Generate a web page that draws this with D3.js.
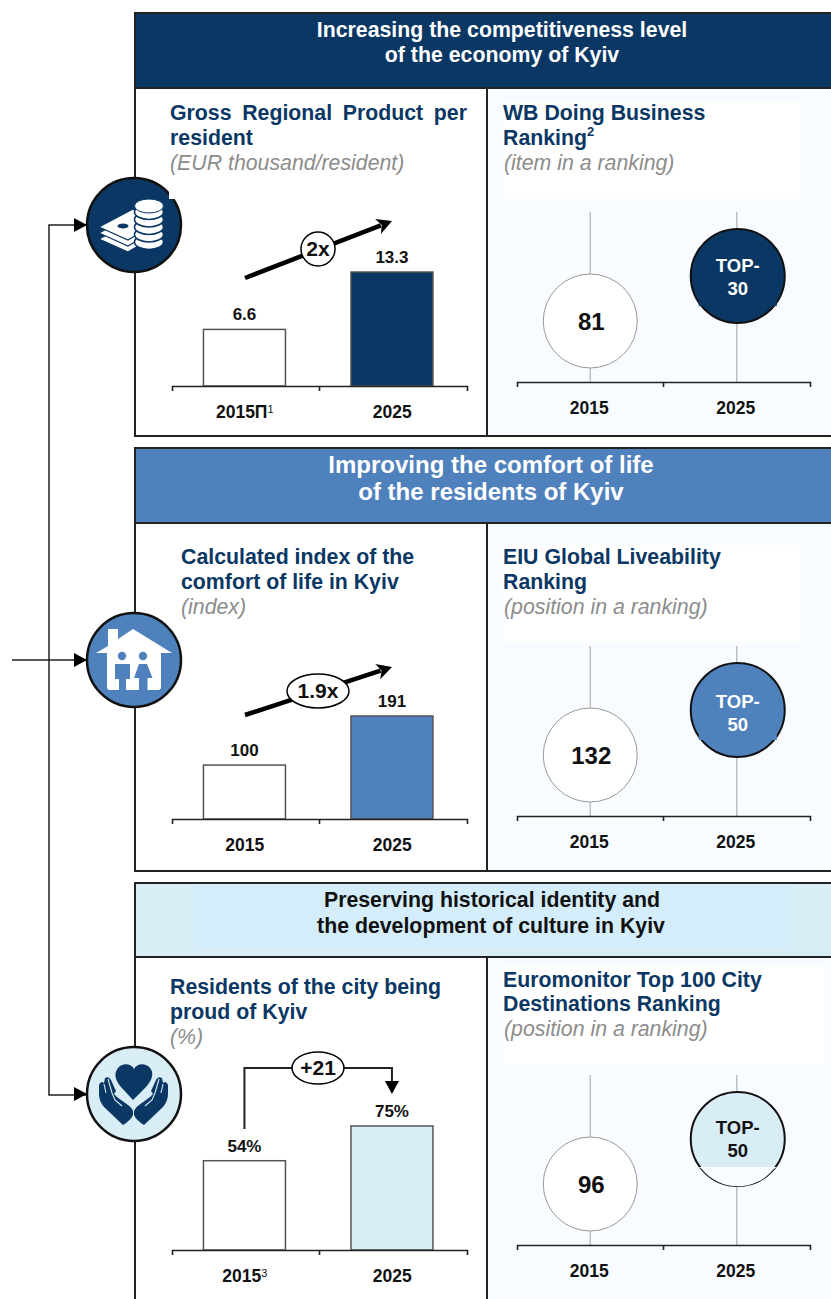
<!DOCTYPE html>
<html>
<head>
<meta charset="utf-8">
<title>Kyiv strategy targets</title>
<script src="https://cdn.jsdelivr.net/npm/d3@7.9.0/dist/d3.min.js"></script>
<style>
  html, body { margin: 0; padding: 0; background: #fff; }
  svg { display: block; }
  text { font-family: "Liberation Sans", Arial, sans-serif; }
  .domain { stroke: #222; stroke-width: 1.6; fill: none; }
  .tick line { stroke: #222; stroke-width: 1.6; }
  .tick text { font-size: 17.5px; font-weight: bold; fill: #111; font-family: "Liberation Sans", Arial, sans-serif; }
</style>
</head>
<body>
<script>
// Chart values
const grpYears = ['2015П¹', '2025'];
const grpValues = [6.6, 13.3];
const grpLabels = ['6.6', '13.3'];

const comfortYears = ['2015', '2025'];
const comfortValues = [100, 191];
const comfortLabels = ['100', '191'];

const prideYears = ['2015³', '2025'];
const prideValues = [54, 75];
const prideLabels = ['54%', '75%'];

const rankYears = ['2015', '2025'];
const doingBusinessRanks = [81, 30];
const doingBusinessLabels = [['81'], ['TOP-', '30']];
const liveabilityRanks = [132, 50];
const liveabilityLabels = [['132'], ['TOP-', '50']];
const destinationRanks = [96, 50];
const destinationLabels = [['96'], ['TOP-', '50']];

const navy = '#0a3763';
const blue = '#4f81bd';
const pale = '#d9edf7';
const paleInner = '#d4edfa';
const paleBg = '#f8fbff';

const svg = d3.select('body').append('svg')
    .attr('width', 831)
    .attr('height', 1299);

function lines(g, rows, attrs) {
    rows.forEach(r => {
        g.append('text')
            .attr('x', r[1])
            .attr('y', r[2])
            .attr('text-anchor', attrs.anchor || 'start')
            .attr('font-size', attrs.size)
            .attr('font-weight', attrs.weight || 'bold')
            .attr('font-style', attrs.style || 'normal')
            .attr('word-spacing', r[3] || 0)
            .attr('fill', attrs.fill)
            .text(r[0]);
    });
}

// Panel frame: coloured header, left and right cells
function drawFrame(p) {
    const g = svg.append('g');
    g.append('rect').attr('x', 487).attr('y', p.bottomHeader).attr('width', 346).attr('height', p.bottom - p.bottomHeader)
        .attr('fill', paleBg);
    g.append('rect').attr('x', 503).attr('y', p.white[0]).attr('width', p.white[2]).attr('height', p.white[1])
        .attr('fill', '#fff');
    g.append('rect').attr('x', 135).attr('y', p.top).attr('width', 700).attr('height', p.bottom - p.top)
        .attr('fill', 'none').attr('stroke', '#222').attr('stroke-width', 2);
    g.append('rect').attr('x', 135).attr('y', p.top).attr('width', 700).attr('height', p.bottomHeader - p.top)
        .attr('fill', p.color).attr('stroke', '#222').attr('stroke-width', 2);
    if (p.inner) {
        g.append('rect').attr('x', 193).attr('y', p.top + 3).attr('width', 598).attr('height', 61)
            .attr('fill', p.inner);
    }
    g.append('line').attr('x1', 487).attr('x2', 487).attr('y1', p.bottomHeader).attr('y2', p.bottom)
        .attr('stroke', '#222').attr('stroke-width', 2);
    lines(g, p.header, { anchor: 'middle', size: p.headerSize, fill: p.headerFill });
    lines(g, p.leftTitle, { size: 21.3, fill: navy });
    lines(g, p.leftSub, { size: 21.3, style: 'italic', weight: 'normal', fill: '#8c8c8c' });
    lines(g, p.rightTitle, { size: 21.3, fill: navy });
    lines(g, p.rightSub, { size: 21.3, style: 'italic', weight: 'normal', fill: '#8c8c8c' });
}

// Two bar chart with its axis
function drawBars(c) {
    const g = svg.append('g');
    const x = d3.scaleBand().domain(c.years).range([172, 467]);
    const y = d3.scaleLinear().domain([0, c.values[1]]).range([c.baseY, c.topY]);
    const barW = 82;
    const cx = d => x(d) + x.bandwidth() / 2 - 1.3;

    g.selectAll('rect').data(c.values).enter().append('rect')
        .attr('x', (d, i) => cx(c.years[i]) - barW / 2)
        .attr('y', d => y(d))
        .attr('width', barW)
        .attr('height', d => c.baseY - y(d))
        .attr('fill', (d, i) => i === 0 ? '#fff' : c.color)
        .attr('stroke', '#555')
        .attr('stroke-width', 1.5);

    g.selectAll('text.val').data(c.labels).enter().append('text')
        .attr('class', 'val')
        .attr('x', (d, i) => cx(c.years[i]))
        .attr('y', (d, i) => y(c.values[i]) - 9)
        .attr('text-anchor', 'middle')
        .attr('font-size', 17)
        .attr('font-weight', 'bold')
        .attr('fill', '#111')
        .text(d => d);

    addAxis(g, x, c.baseY, 172, 467);
    return { x: d => cx(d), y };
}

function addAxis(g, x, axisY, x0, x1) {
    const axisG = g.append('g')
        .attr('transform', `translate(0,${axisY})`)
        .call(d3.axisBottom(x).tickSizeInner(0).tickSizeOuter(5).tickPadding(20));
    axisG.selectAll('.tick text').attr('dx', -1).each(function (d) {
        // footnote marks are set smaller and raised
        const m = d.match(/[¹³]$/);
        if (!m) return;
        const t = d3.select(this).text(d.slice(0, -1));
        t.append('tspan').attr('dy', -5).attr('font-size', 11).attr('font-weight', 'normal')
            .text(m[0] === '¹' ? '1' : '3');
    });
    axisG.append('line')
        .attr('x1', (x0 + x1) / 2).attr('x2', (x0 + x1) / 2)
        .attr('y1', 0).attr('y2', 5)
        .attr('stroke', '#222').attr('stroke-width', 1.6);
}

// Ranking chart: two circles sitting on grey stems
function drawRanks(c) {
    const g = svg.append('g');
    const x = d3.scaleBand().domain(rankYears).range([517, 810]);
    const cx = d => x(d) + x.bandwidth() / 2;
    const y = d3.scaleLinear().domain(c.ranks).range(c.yRange);
    const lastX = cx(rankYears[1]) + 1;
    const lastY = y(c.ranks[1]);

    rankYears.forEach(yr => {
        g.append('line').attr('x1', cx(yr)).attr('x2', cx(yr))
            .attr('y1', c.stemTop).attr('y2', c.axisY)
            .attr('stroke', '#bdbdbd').attr('stroke-width', 1.5);
    });
    addAxis(g, x, c.axisY, 517, 810);

    g.selectAll('circle').data(c.ranks).enter().append('circle')
        .attr('cx', (d, i) => cx(rankYears[i]) + (i === 0 ? 0 : 1))
        .attr('cy', d => y(d))
        .attr('r', 47)
        .attr('fill', (d, i) => i === 0 ? '#fff' : c.color)
        .attr('stroke', (d, i) => i === 0 ? '#999' : '#111')
        .attr('stroke-width', (d, i) => i === 0 ? 1 : 2);

    // the source picture has a pasted patch over the lower part of the circle
    if (c.patch === 'notch') {
        g.append('rect').attr('x', lastX - 39).attr('y', lastY + 24).attr('width', 78).attr('height', 6)
            .attr('fill', c.color);
    }
    if (c.patch === 'cap') {
        g.append('path')
            .attr('d', `M${lastX - 39},${lastY + 28} H${lastX + 39} L${lastX + 36},${lastY + 30} A46,46 0 0 1 ${lastX - 36},${lastY + 30} Z`)
            .attr('fill', paleBg);
    }

    // first circle holds a big number, second one two smaller lines
    g.append('text')
        .attr('x', cx(rankYears[0]) + 1)
        .attr('y', y(c.ranks[0]) + 9)
        .attr('text-anchor', 'middle')
        .attr('font-size', 24).attr('font-weight', 'bold').attr('fill', '#111')
        .text(c.labels[0][0]);
    c.labels[1].forEach((t, i) => {
        g.append('text')
            .attr('x', lastX)
            .attr('y', lastY + c.labelDy + i * 22.5)
            .attr('text-anchor', 'middle')
            .attr('font-size', 18.5).attr('font-weight', 'bold').attr('fill', c.textFill)
            .text(t);
    });
}

// Thick arrow from the first bar towards the second with a badge on top
function growthArrow(x1, y1, x2, y2, rx, ry, cx, cy, label, size) {
    const g = svg.append('g');
    const a = Math.atan2(y2 - y1, x2 - x1);
    g.append('line').attr('x1', x1).attr('y1', y1)
        .attr('x2', x2 - 12 * Math.cos(a)).attr('y2', y2 - 12 * Math.sin(a))
        .attr('stroke', '#000').attr('stroke-width', 4.5);
    g.append('path')
        .attr('d', 'M0,0 L-15,-8 L-11,0 L-15,8 Z')
        .attr('transform', `translate(${x2},${y2}) rotate(${a * 180 / Math.PI})`)
        .attr('fill', '#000');
    g.append('ellipse').attr('cx', cx).attr('cy', cy).attr('rx', rx).attr('ry', ry)
        .attr('fill', '#fff').attr('stroke', '#000').attr('stroke-width', 1.5);
    g.append('text').attr('x', cx).attr('y', cy + 7).attr('text-anchor', 'middle')
        .attr('font-size', size).attr('font-weight', 'bold').attr('fill', '#111').text(label);
}

// Panels
drawFrame({
    top: 13, bottomHeader: 88, bottom: 436, color: navy, headerFill: '#fff', headerSize: 21.3,
    white: [101, 98, 298],
    header: [['Increasing the competitiveness level', 502, 37], ['of the economy of Kyiv', 502, 62]],
    leftTitle: [['Gross Regional Product per', 170, 120, 4.7], ['resident', 170, 145]],
    leftSub: [['(EUR thousand/resident)', 170, 170]],
    rightTitle: [['WB Doing Business', 503, 120], ['Ranking', 503, 145]],
    rightSub: [['(item in a ranking)', 504, 170]]
});
svg.append('text').attr('x', 587).attr('y', 136).attr('font-size', 13).attr('font-weight', 'bold').attr('fill', navy).text('2');

drawFrame({
    top: 448, bottomHeader: 523, bottom: 871, color: blue, headerFill: '#fff', headerSize: 24,
    white: [545, 98, 298],
    header: [['Improving the comfort of life', 491, 473], ['of the residents of Kyiv', 491, 500]],
    leftTitle: [['Calculated index of the', 181, 564], ['comfort of life in Kyiv', 181, 589]],
    leftSub: [['(index)', 181, 614]],
    rightTitle: [['EIU Global Liveability', 503, 564], ['Ranking', 503, 589]],
    rightSub: [['(position in a ranking)', 504, 614]]
});

drawFrame({
    top: 883, bottomHeader: 957, bottom: 1320, color: pale, inner: paleInner, headerFill: '#111', headerSize: 21.3,
    white: [965, 100, 322],
    header: [['Preserving historical identity and', 492, 907], ['the development of culture in Kyiv', 491, 933]],
    leftTitle: [['Residents of the city being', 170, 994], ['proud of Kyiv', 170, 1019]],
    leftSub: [['(%)', 170, 1044]],
    rightTitle: [['Euromonitor Top 100 City', 503, 987], ['Destinations Ranking', 503, 1011]],
    rightSub: [['(position in a ranking)', 504, 1036]]
});

// Bars
drawBars({ years: grpYears, values: grpValues, labels: grpLabels, color: navy, baseY: 386, topY: 272 });
drawBars({ years: comfortYears, values: comfortValues, labels: comfortLabels, color: blue, baseY: 819, topY: 716 });
const prideChart = drawBars({ years: prideYears, values: prideValues, labels: prideLabels, color: pale, baseY: 1250, topY: 1126 });

growthArrow(245, 278, 392, 221, 17, 17, 318, 249, '2x', 21);
growthArrow(245, 715, 392, 667, 31, 17, 318, 691, '1.9x', 21);

// Elbow connector for the +21 note
const elbow = svg.append('g');
const ex0 = prideChart.x(prideYears[0]), ex1 = prideChart.x(prideYears[1]);
elbow.append('path')
    .attr('d', `M${ex0},1129 V1068 H${ex1} V1084`)
    .attr('fill', 'none').attr('stroke', '#222').attr('stroke-width', 2);
elbow.append('path')
    .attr('d', `M${ex1 - 7},1081 H${ex1 + 7} L${ex1},1094 Z`)
    .attr('fill', '#000');
elbow.append('ellipse').attr('cx', 318).attr('cy', 1068).attr('rx', 26).attr('ry', 16)
    .attr('fill', '#fff').attr('stroke', '#000').attr('stroke-width', 1.5);
elbow.append('text').attr('x', 318).attr('y', 1075).attr('text-anchor', 'middle')
    .attr('font-size', 21).attr('font-weight', 'bold').attr('fill', '#111').text('+21');

// Rankings
drawRanks({ ranks: doingBusinessRanks, labels: doingBusinessLabels, color: navy, textFill: '#fff', yRange: [321, 276], stemTop: 212, axisY: 382, labelDy: -4, patch: 'notch' });
drawRanks({ ranks: liveabilityRanks, labels: liveabilityLabels, color: blue, textFill: '#fff', yRange: [755, 710], stemTop: 646, axisY: 816, labelDy: -2, patch: 'notch' });
drawRanks({ ranks: destinationRanks, labels: destinationLabels, color: pale, textFill: '#111', yRange: [1184, 1139], stemTop: 1075, axisY: 1245, labelDy: -5, patch: 'cap' });

// Connector on the left
const conn = svg.append('g');
conn.append('path').attr('d', 'M87,225 H49 V1095 H87').attr('fill', 'none').attr('stroke', '#222').attr('stroke-width', 1.5);
conn.append('path').attr('d', 'M12,660 H87').attr('fill', 'none').attr('stroke', '#222').attr('stroke-width', 1.5);
[225, 660, 1094].forEach(y => {
    conn.append('path').attr('d', `M87,${y} L74,${y - 7} V${y + 7} Z`).attr('fill', '#000');
});

// Round icons on the frame line
function iconBase(cy, fill) {
    const g = svg.append('g').attr('transform', `translate(134,${cy})`);
    g.append('circle').attr('r', 47).attr('fill', fill).attr('stroke', '#111').attr('stroke-width', 2.5);
    return g;
}

// Banknotes and coins
const money = iconBase(225, navy);
[12, 6, 0].forEach(dy => {
    money.append('path')
        .attr('d', `M-35,${2 + dy} L-1,${-16 + dy} L16,${-4 + dy} L16,${6 + dy} L4,${9 + dy} L-6,${15 + dy} Z`)
        .attr('fill', '#fff').attr('stroke', navy).attr('stroke-width', 1.2);
});
money.append('ellipse').attr('cx', -11).attr('cy', 1).attr('rx', 5.5).attr('ry', 2.5).attr('fill', navy);
d3.range(4, -1, -1).forEach(i => {
    money.append('ellipse').attr('cx', 15).attr('cy', -13 + i * 7.5).attr('rx', 14.5).attr('ry', 7.5)
        .attr('fill', '#fff').attr('stroke', navy).attr('stroke-width', 1.6);
});
money.append('ellipse').attr('cx', 15).attr('cy', -19).attr('rx', 14.5).attr('ry', 7)
    .attr('fill', '#fff').attr('stroke', navy).attr('stroke-width', 1);
svg.append('rect').attr('x', 169).attr('y', 192).attr('width', 6).attr('height', 7).attr('fill', '#fff');

// House with two people
const house = iconBase(660, blue);
house.append('path')
    .attr('d', 'M-38,-7 L-26,-14 V-31 H-16 V-21 L-1,-31 L38,-7 H27 V27 Q27,30 24,30 H-24 Q-27,30 -27,27 V-7 Z')
    .attr('fill', '#fff');
house.append('circle').attr('cx', -12).attr('cy', -4).attr('r', 4.2).attr('fill', blue);
house.append('path').attr('d', 'M-19,4 H-4 V19 H-8 V30 H-15 V19 H-19 Z').attr('fill', blue);
house.append('circle').attr('cx', 9).attr('cy', -4).attr('r', 4.2).attr('fill', blue);
house.append('path').attr('d', 'M5,4 H13 L18.5,18 H13.5 V30 H5 V18 H0 Z').attr('fill', blue);

// Heart held in two hands
const hands = iconBase(1094, pale);
hands.append('path')
    .attr('d', 'M0,-25 C3,-31 12,-31 16,-26 C21,-20 17,-13 12,-7 L-1,6 L-13,-7 C-18,-13 -21,-20 -16,-26 C-12,-31 -3,-31 0,-25 Z')
    .attr('fill', navy);
[1, -1].forEach(s => {
    const hand = hands.append('g').attr('transform', `translate(${s === 1 ? 0 : -1},0) scale(${s},1)`);
    hand.append('path')
        .attr('d', 'M-35,-9 Q-33,-14 -30,-11 L-29,-16 Q-25,-18 -23,-14 L-18,-3 L-20,0 L-17,3 L-13,6 L-6,11 Q0,15 -1,21 Q-3,26 -11,31 L-30,13 Q-35,7 -35,0 Z')
        .attr('fill', navy);
    hand.append('path')
        .attr('d', 'M-26,-15 L-22,-1 L-19,6 L-12,12 M-30,-10 L-28,-1')
        .attr('fill', 'none').attr('stroke', pale).attr('stroke-width', 1.1);
});
</script>
</body>
</html>
